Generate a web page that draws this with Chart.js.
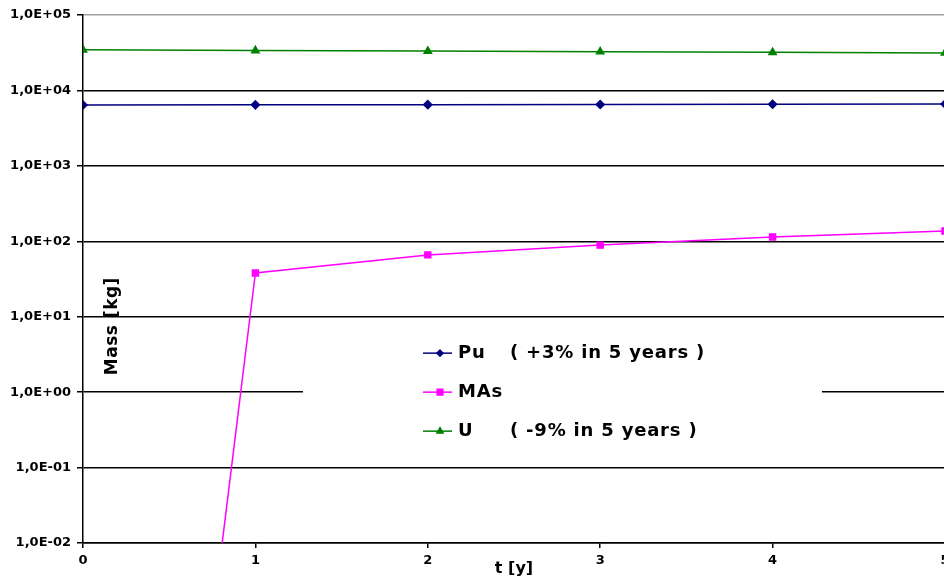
<!DOCTYPE html>
<html>
<head>
<meta charset="utf-8">
<script src="https://cdn.jsdelivr.net/npm/chart.js@4.4.0/dist/chart.umd.min.js"></script>
<style>
  html, body { margin: 0; padding: 0; background: #fff; overflow: hidden; }
  #wrap { width: 960px; height: 580px; }
</style>
</head>
<body>
<div id="wrap"><canvas id="massChart" width="960" height="580"></canvas></div>
<script>
// time in years and masses in kg
const years = [0, 1, 2, 3, 4, 5];
const puMass = [6400, 6440, 6480, 6520, 6560, 6600];
const masMass = [1e-17, 38, 66, 89, 114, 137];
const uMass = [34500, 33800, 33200, 32600, 32000, 31400];

const seriesNames = ["Pu", "MAs", "U"];
const seriesNotes = ["( +3% in 5 years )", "", "( -9% in 5 years )"];

const yTickValues = [1e-2, 1e-1, 1e0, 1e1, 1e2, 1e3, 1e4, 1e5];
const yTickLabels = ["1,0E-02", "1,0E-01", "1,0E+00", "1,0E+01", "1,0E+02", "1,0E+03", "1,0E+04", "1,0E+05"];
const xTickValues = [0, 1, 2, 3, 4, 5];

const FONT = "'DejaVu Sans', sans-serif";

const toPoints = (vals) => years.map((t, i) => ({ x: t, y: vals[i] }));

function makeSeries(i, vals, color, shape, radius) {
  return {
    label: seriesNames[i],
    note: seriesNotes[i],
    data: toPoints(vals),
    borderColor: color,
    backgroundColor: color,
    borderWidth: 1.5,
    pointStyle: shape,
    pointRadius: radius,
    pointHoverRadius: radius,
    tension: 0,
  };
}

// legend drawn as a white box inside the plot, like the original
const boxLegend = {
  id: "boxLegend",
  afterDatasetsDraw(chart) {
    const ctx = chart.ctx;
    const area = chart.chartArea;
    const ys = chart.scales.y;
    ctx.save();
    const top = ys.getPixelForValue(10) + 6;
    const bottom = ys.getPixelForValue(0.1) - 6;
    const left = area.left + 220;
    const right = area.left + 739;
    ctx.fillStyle = "#fff";
    ctx.fillRect(left, top, right - left, bottom - top);

    const rowY = ys.getPixelForValue(1);
    const gap = 39;
    const lineX0 = area.left + 340;
    const lineX1 = area.left + 369;
    const markX = area.left + 357;
    const markSize = [3, 4, 3.5];
    chart.data.datasets.forEach((ds, i) => {
      const y = rowY + (i - 1) * gap;
      ctx.strokeStyle = ds.borderColor;
      ctx.lineWidth = 1.5;
      ctx.beginPath();
      ctx.moveTo(lineX0, y);
      ctx.lineTo(lineX1, y);
      ctx.stroke();
      ctx.fillStyle = ds.borderColor;
      Chart.helpers.drawPoint(ctx, {
        pointStyle: ds.pointStyle,
        radius: markSize[i],
        rotation: 0,
        borderWidth: 1,
      }, markX, y);
      ctx.fillStyle = "#000";
      ctx.font = "bold 18px " + FONT;
      ctx.letterSpacing = "0.8px";
      ctx.textBaseline = "middle";
      ctx.textAlign = "left";
      ctx.fillText(ds.label, area.left + 375, y);
      if (ds.note) ctx.fillText(ds.note, area.left + 427, y);
    });

    // y axis title sits inside the plot area
    ctx.translate(area.left + 30, ys.getPixelForValue(7.5));
    ctx.rotate(-Math.PI / 2);
    ctx.textAlign = "center";
    ctx.font = "bold 17px " + FONT;
    ctx.letterSpacing = "0.5px";
    ctx.fillText(chart.options.scales.y.title.text, 0, 0);
    ctx.restore();
  },
};

const data = {
  datasets: [
    makeSeries(0, puMass, "#000080", "rectRot", 4),
    makeSeries(1, masMass, "#ff00ff", "rect", 4.2),
    makeSeries(2, uMass, "#008000", "triangle", 4.2),
  ],
};

const config = {
  type: "line",
  data: data,
  options: {
    responsive: false,
    animation: false,
    layout: { padding: { top: 15, right: 15, left: 0, bottom: 0 } },
    plugins: {
      legend: { display: false },
      tooltip: { enabled: false },
    },
    scales: {
      x: {
        type: "linear",
        min: 0,
        max: 5,
        afterBuildTicks: (scale) => {
          scale.ticks = xTickValues.map((v) => ({ value: v }));
        },
        afterFit: (scale) => {
          scale.height = 37;
        },
        border: { color: "#000", width: 1.5 },
        grid: { drawOnChartArea: false, tickLength: 5, color: "#000", lineWidth: 1.5 },
        ticks: {
          color: "#000",
          font: { family: FONT, size: 13, weight: "bold" },
          padding: 5,
          maxRotation: 0,
        },
        title: {
          display: true,
          text: "t [y]",
          color: "#000",
          font: { family: FONT, size: 16, weight: "bold" },
          padding: { top: 0, bottom: 2 },
        },
      },
      y: {
        type: "logarithmic",
        min: 1e-2,
        max: 1e5,
        afterBuildTicks: (scale) => {
          scale.ticks = yTickValues.map((v) => ({ value: v }));
        },
        afterFit: (scale) => {
          scale.width = 83;
        },
        border: { color: "#000", width: 1.5 },
        grid: {
          color: (c) => (c.tick && c.tick.value === 1e5 ? "#a0a0a0" : "#000"),
          tickColor: "#000",
          lineWidth: 1.5,
          tickLength: 6,
        },
        ticks: {
          color: "#000",
          font: { family: FONT, size: 13, weight: "bold" },
          padding: 6,
          callback: (value) => {
            const k = yTickValues.indexOf(value);
            return k >= 0 ? yTickLabels[k] : "";
          },
        },
        title: { display: false, text: "Mass [kg]" },
      },
    },
  },
  plugins: [boxLegend],
};

const massChart = new Chart(document.getElementById("massChart"), config);
</script>
</body>
</html>
